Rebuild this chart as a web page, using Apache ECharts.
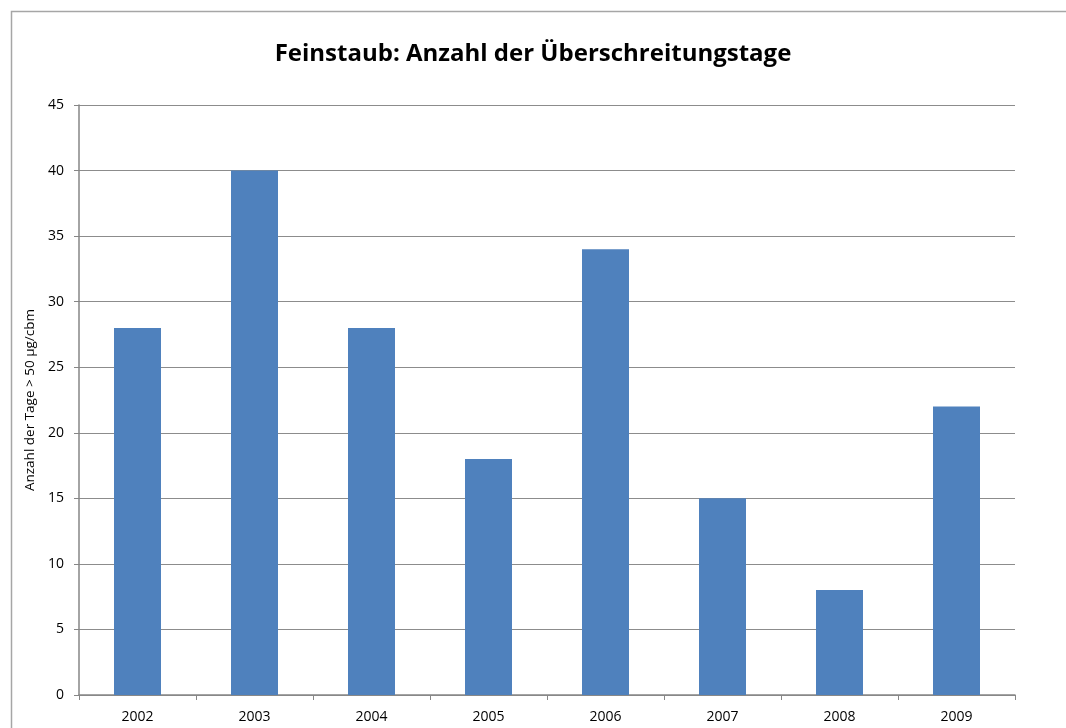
<!DOCTYPE html>
<html>
<head>
<meta charset="utf-8">
<script src="https://cdn.jsdelivr.net/npm/echarts@6/dist/echarts.min.js"></script>
<style>
  html, body { margin: 0; padding: 0; background: #fff; }
  #chart { width: 1066px; height: 728px; }
</style>
</head>
<body>
<div id="chart"></div>
<script>
// Jahre und Überschreitungstage
var years = ['2002', '2003', '2004', '2005', '2006', '2007', '2008', '2009']
var days = [28, 40, 28, 18, 34, 15, 8, 22]

var chart = echarts.init(document.getElementById('chart'))
chart.setOption({
  backgroundColor: '#fff',
  animation: false,
  title: {
    text: 'Feinstaub: Anzahl der Überschreitungstage',
    left: 'center',
    top: 37,
    padding: [5, 0, 5, 8],
    textStyle: {
      fontFamily: 'Open Sans',
      fontWeight: 'bold',
      fontSize: 24,
      color: '#000'
    }
  },
  graphic: [{
    type: 'rect',
    shape: { x: 11.5, y: 11.5, width: 1100, height: 800 },
    style: { fill: 'none', stroke: '#a6a6a6', lineWidth: 1.5 },
    silent: true
  }],
  grid: {
    left: 79,
    right: 51,
    top: 105,
    bottom: 33
  },
  xAxis: {
    type: 'category',
    data: years,
    axisLine: { lineStyle: { color: '#868686', width: 1.5 } },
    axisTick: { show: true, length: 5, lineStyle: { color: '#868686' } },
    axisLabel: { color: '#000', fontFamily: 'Open Sans', fontSize: 14, margin: 15 }
  },
  yAxis: {
    type: 'value',
    min: 0,
    max: 45,
    interval: 5,
    name: 'Anzahl der Tage > 50 µg/cbm',
    nameLocation: 'middle',
    nameGap: 40,
    nameTextStyle: { color: '#000', fontFamily: 'Open Sans', fontSize: 13.5 },
    axisLine: { show: true, lineStyle: { color: '#868686', width: 1.5 } },
    axisTick: { show: true, length: 5, lineStyle: { color: '#868686' } },
    axisLabel: { color: '#000', fontFamily: 'Open Sans', fontSize: 14, margin: 15 },
    splitLine: { lineStyle: { color: '#8c8c8c', width: 1 } }
  },
  series: [{
    type: 'bar',
    data: days,
    barWidth: 47,
    itemStyle: { color: '#4f81bd' }
  }]
})
</script>
</body>
</html>
